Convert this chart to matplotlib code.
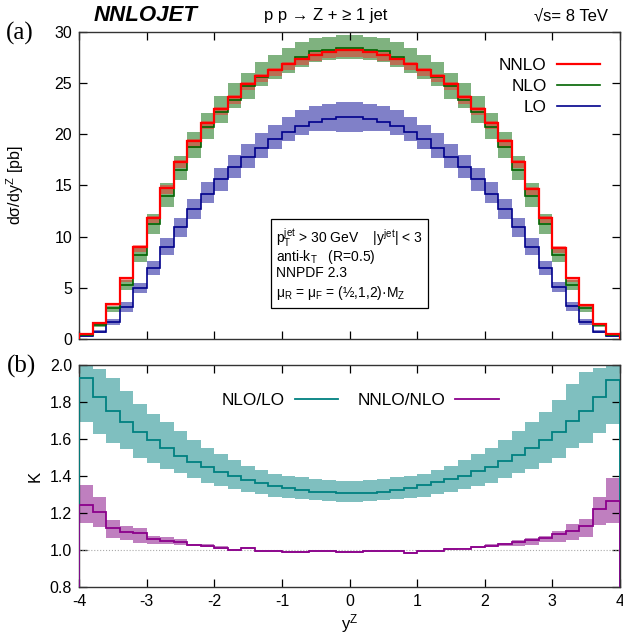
import numpy as np
import matplotlib
matplotlib.use("Agg")
import matplotlib.pyplot as plt
from matplotlib.patches import Rectangle

plt.rcParams['font.family'] = ['Liberation Sans', 'DejaVu Sans']
plt.rcParams['mathtext.fontset'] = 'custom'
plt.rcParams['mathtext.rm'] = 'Liberation Sans'
plt.rcParams['mathtext.it'] = 'Liberation Sans'
plt.rcParams['mathtext.bf'] = 'Liberation Sans:bold'
plt.rcParams['axes.unicode_minus'] = False

# bins in y^Z
edges = np.linspace(-4, 4, 41)

# d sigma / dy^Z [pb]
lo = [0.25, 0.72, 1.70, 3.10, 4.95, 6.94, 8.96, 10.9, 12.7, 14.2, 15.6, 16.8, 17.8, 18.7, 19.5, 20.2, 20.8, 21.2, 21.5, 21.7,
      21.7, 21.5, 21.2, 20.8, 20.2, 19.5, 18.7, 17.8, 16.8, 15.6, 14.2, 12.7, 10.9, 8.96, 6.97, 5.1, 3.2, 1.7, 0.72, 0.29]
lo_up = [0.32, 0.85, 2.0, 3.6, 5.5, 7.65, 9.85, 11.8, 13.65, 15.3, 16.7, 18.0, 19.1, 20.1, 20.9, 21.7, 22.4, 22.8, 23.0, 23.2,
         23.2, 23.0, 22.8, 22.4, 21.7, 20.9, 20.1, 19.1, 18.0, 16.7, 15.3, 13.65, 11.8, 9.85, 7.65, 5.6, 3.6, 2.0, 0.85, 0.34]
lo_dn = [0.18, 0.6, 1.4, 2.6, 4.5, 6.3, 8.2, 10.0, 11.7, 13.3, 14.5, 15.7, 16.7, 17.7, 18.6, 19.3, 19.9, 20.3, 20.3, 20.2,
         20.2, 20.3, 20.3, 19.9, 19.3, 18.6, 17.7, 16.7, 15.7, 14.5, 13.3, 11.7, 10.0, 8.2, 6.3, 4.6, 2.7, 1.4, 0.6, 0.2]

nlo = [0.40, 1.40, 3.0, 5.3, 8.2, 11.2, 14.0, 16.5, 18.8, 20.7, 22.2, 23.4, 24.7, 25.6, 26.3, 26.9, 27.6, 28.1, 28.25, 28.4,
       28.4, 28.25, 28.1, 27.6, 26.9, 26.3, 25.6, 24.7, 23.4, 22.2, 20.7, 18.8, 16.5, 14.0, 11.2, 8.2, 5.3, 3.0, 1.4, 0.42]
nlo_up = [0.45, 1.55, 3.2, 5.8, 9.0, 12.2, 15.2, 17.9, 20.2, 22.1, 23.7, 25.0, 26.0, 27.1, 27.8, 28.4, 29.0, 29.4, 29.55, 29.7,
          29.7, 29.55, 29.4, 29.0, 28.4, 27.8, 27.1, 26.0, 25.0, 23.7, 22.1, 20.2, 17.9, 15.2, 12.2, 9.0, 5.8, 3.2, 1.55, 0.47]
nlo_dn = [0.35, 1.2, 2.6, 4.8, 7.5, 10.3, 12.9, 15.5, 17.7, 19.5, 21.1, 22.55, 23.5, 24.7, 25.4, 26.0, 26.6, 27.1, 27.3, 27.4,
          27.4, 27.3, 27.1, 26.6, 26.0, 25.4, 24.7, 23.5, 22.55, 21.1, 19.5, 17.7, 15.5, 12.9, 10.3, 7.5, 4.8, 2.6, 1.2, 0.36]

nnlo = [0.46, 1.53, 3.39, 5.93, 9.03, 11.8, 14.8, 17.3, 19.3, 21.1, 22.5, 23.6, 24.9, 25.7, 26.3, 26.85, 27.4, 27.8, 28.05, 28.2,
        28.2, 28.05, 27.8, 27.4, 26.85, 26.3, 25.7, 24.9, 23.6, 22.5, 21.1, 19.3, 17.3, 14.7, 11.8, 8.9, 5.93, 3.3, 1.5, 0.46]
nnlo_up = [0.5, 1.6, 3.5, 6.05, 9.2, 12.0, 15.0, 17.5, 19.5, 21.3, 22.7, 23.8, 25.1, 25.9, 26.5, 27.05, 27.6, 28.0, 28.25, 28.4,
           28.4, 28.25, 28.0, 27.6, 27.05, 26.5, 25.9, 25.1, 23.8, 22.7, 21.3, 19.5, 17.5, 14.9, 12.0, 9.1, 6.05, 3.4, 1.6, 0.5]
nnlo_dn = [0.4, 1.4, 3.2, 5.6, 8.5, 11.3, 14.2, 16.7, 18.7, 20.5, 21.9, 23.0, 24.3, 25.1, 25.7, 26.3, 26.8, 27.2, 27.45, 27.6,
           27.6, 27.45, 27.2, 26.8, 26.3, 25.7, 25.1, 24.3, 23.0, 21.9, 20.5, 18.7, 16.7, 14.1, 11.3, 8.4, 5.6, 3.1, 1.4, 0.4]

# K factors
k_nlo = [1.93, 1.83, 1.75, 1.69, 1.64, 1.595, 1.55, 1.51, 1.477, 1.45, 1.423, 1.40, 1.378, 1.36, 1.346, 1.333, 1.324, 1.315, 1.312, 1.306,
         1.306, 1.31, 1.315, 1.325, 1.337, 1.35, 1.368, 1.385, 1.40, 1.425, 1.45, 1.48, 1.514, 1.55, 1.595, 1.636, 1.70, 1.75, 1.83, 1.92]
k_nlo_up = [2.05, 1.98, 1.93, 1.86, 1.79, 1.735, 1.69, 1.643, 1.595, 1.553, 1.517, 1.486, 1.454, 1.43, 1.41, 1.40, 1.393, 1.385, 1.38, 1.375,
            1.375, 1.38, 1.385, 1.393, 1.40, 1.41, 1.43, 1.454, 1.486, 1.517, 1.553, 1.595, 1.643, 1.69, 1.748, 1.81, 1.90, 1.964, 1.985, 2.05]
k_nlo_dn = [1.69, 1.63, 1.58, 1.545, 1.50, 1.47, 1.44, 1.417, 1.39, 1.364, 1.346, 1.328, 1.315, 1.303, 1.288, 1.28, 1.274, 1.27, 1.265, 1.262,
            1.262, 1.265, 1.27, 1.274, 1.28, 1.288, 1.303, 1.315, 1.328, 1.346, 1.364, 1.39, 1.418, 1.438, 1.472, 1.50, 1.55, 1.577, 1.634, 1.68]

k_nnlo = [1.243, 1.207, 1.117, 1.10, 1.09, 1.058, 1.051, 1.045, 1.027, 1.024, 1.013, 1.0, 1.009, 0.997, 0.997, 0.99, 0.99, 0.993, 0.993, 0.99,
          0.991, 0.993, 0.993, 0.995, 0.985, 0.993, 0.997, 1.006, 1.008, 1.017, 1.024, 1.031, 1.045, 1.054, 1.067, 1.085, 1.105, 1.13, 1.22, 1.265]
k_nnlo_up = [1.35, 1.288, 1.162, 1.131, 1.117, 1.076, 1.068, 1.058, 1.035, 1.031, 1.02, 1.006, 1.014, 1.002, 1.002, 0.995, 0.995, 0.998, 0.998, 0.995,
             0.996, 0.998, 0.998, 1.0, 0.99, 0.998, 1.002, 1.011, 1.013, 1.023, 1.03, 1.038, 1.054, 1.067, 1.076, 1.103, 1.141, 1.168, 1.286, 1.388]
k_nnlo_dn = [1.144, 1.126, 1.067, 1.054, 1.04, 1.035, 1.033, 1.025, 1.02, 1.018, 1.007, 0.996, 1.004, 0.992, 0.992, 0.985, 0.985, 0.988, 0.988, 0.985,
             0.986, 0.988, 0.988, 0.99, 0.978, 0.988, 0.992, 1.001, 1.003, 1.011, 1.018, 1.024, 1.023, 1.027, 1.041, 1.045, 1.054, 1.072, 1.135, 1.144]

top_series = [
    ("LO", lo, lo_up, lo_dn, "#00008b", "#8080c8", 1.0, 1.2),
    ("NLO", nlo, nlo_up, nlo_dn, "#006400", "#7fb27f", 1.0, 1.2),
    ("NNLO", nnlo, nnlo_up, nnlo_dn, "#ff0000", "#ff2020", 0.45, 1.6),
]
bot_series = [
    ("NLO/LO", k_nlo, k_nlo_up, k_nlo_dn, "#008080", "#7fbfbf", 1.0),
    ("NNLO/NLO", k_nnlo, k_nnlo_up, k_nnlo_dn, "#8b008b", "#bf7fbf", 1.0),
]

fig = plt.figure(figsize=(6.23, 6.36), dpi=100)
ax1 = fig.add_axes([0.1268, 0.467, 0.8684, 0.4827])
ax2 = fig.add_axes([0.1268, 0.077, 0.8684, 0.349])

width = edges[1:] - edges[:-1]

# bands first, then lines on top
for name, c, up, dn, lc, bc, alpha, lw in top_series:
    ax1.bar(edges[:-1], np.array(up) - np.array(dn), bottom=dn, width=width,
            align='edge', color=bc, alpha=alpha, linewidth=0, zorder=1)
handles = {}
for name, c, up, dn, lc, bc, alpha, lw in top_series:
    handles[name] = ax1.stairs(c, edges, color=lc, linewidth=lw, zorder=3)

for name, c, up, dn, lc, bc, alpha in bot_series:
    ax2.bar(edges[:-1], np.array(up) - np.array(dn), bottom=dn, width=width,
            align='edge', color=bc, alpha=alpha, linewidth=0, zorder=1)
ax2.axhline(1.0, color='#aaaaaa', linestyle=':', linewidth=0.8, zorder=2)
bot_handles = []
for name, c, up, dn, lc, bc, alpha in bot_series:
    bot_handles.append(ax2.stairs(c, edges, color=lc, linewidth=1.3, zorder=3))

for ax in (ax1, ax2):
    ax.set_xlim(-4, 4)
    ax.tick_params(direction='in', top=True, right=True, length=5.5, width=0.9,
                   labelsize=11.5, pad=5)
    for s in ax.spines.values():
        s.set_linewidth(1.0)
        s.set_color('#333333')

ax1.set_ylim(0, 30)
ax1.set_yticks(np.arange(0, 31, 5))
ax1.set_xticks(np.arange(-4, 5, 1))
ax1.tick_params(labelbottom=False)
ax1.set_ylabel(r'd$\sigma$/dy$^Z$ [pb]', fontsize=11.5)
ax1.yaxis.set_label_coords(-0.098, 0.5)

ax2.set_ylim(0.8, 2.0)
ax2.set_yticks(np.arange(0.8, 2.01, 0.2))
ax2.set_yticklabels([f"{v:.1f}" for v in np.arange(0.8, 2.01, 0.2)])
ax2.set_xticks(np.arange(-4, 5, 1))
ax2.set_ylabel('K', fontsize=12)
ax2.yaxis.set_label_coords(-0.068, 0.5)
ax2.set_xlabel(r'y$^Z$', fontsize=12, labelpad=2)

# legends
ax1.legend([handles["NNLO"], handles["NLO"], handles["LO"]], ["NNLO", "NLO", "LO"],
           loc='upper right', bbox_to_anchor=(0.963, 0.915), frameon=False,
           markerfirst=False, fontsize=12.4, handlelength=2.5, handletextpad=0.6,
           labelspacing=0.33, borderpad=0, borderaxespad=0)
ax2.legend(bot_handles, [s[0] for s in bot_series], loc='upper left',
           bbox_to_anchor=(0.264, 0.875), ncol=2, frameon=False, markerfirst=False,
           fontsize=12.4, handlelength=2.5, handletextpad=0.6, columnspacing=1.1,
           borderpad=0, borderaxespad=0)

# info box
ax1.add_patch(Rectangle((0.355, 0.101), 0.29, 0.29, transform=ax1.transAxes,
                        fill=False, edgecolor='black', linewidth=0.9, zorder=4))
info = [r'p$_T^{jet}$ > 30 GeV    |y$^{jet}$| < 3',
        r'anti-k$_T$   (R=0.5)',
        'NNPDF 2.3',
        r'μ$_R$ = μ$_F$ = (½,1,2)·M$_Z$']
for i, line in enumerate(info):
    ax1.text(0.364, [0.329, 0.267, 0.215, 0.150][i], line, transform=ax1.transAxes,
             fontsize=10, va='center', ha='left', zorder=5)

# header
fig.text(0.151, 0.975, 'NNLOJET', fontsize=16, fontweight='bold', fontstyle='italic',
         ha='left', va='center')
fig.text(0.523, 0.975, 'p p → Z + ≥ 1 jet', fontsize=12, ha='center', va='center')
fig.text(0.976, 0.975, '√s= 8 TeV', fontsize=12, ha='right', va='center')
fig.text(0.032, 0.948, '(a)', fontsize=18, family='Liberation Serif', ha='center', va='center')
fig.text(0.035, 0.4245, '(b)', fontsize=18, family='Liberation Serif', ha='center', va='center')

fig.savefig('out.png', dpi=100)
